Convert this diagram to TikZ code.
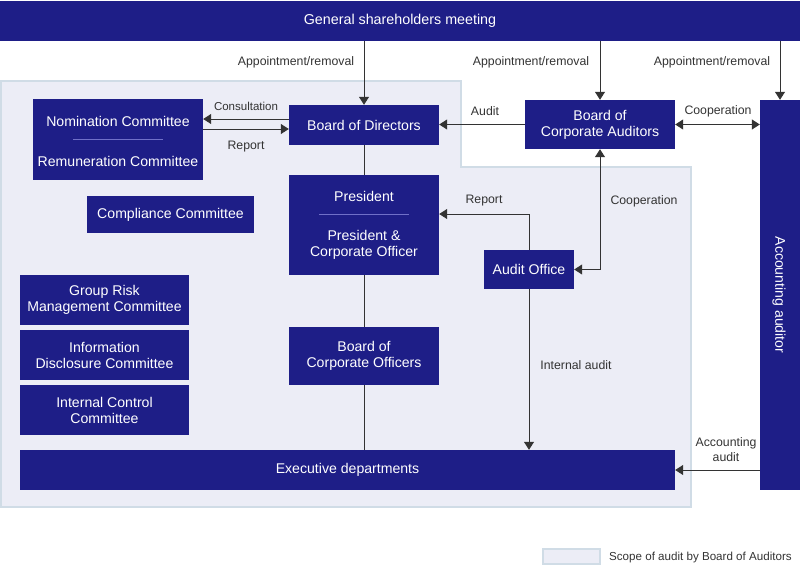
\documentclass[tikz,border=0pt]{standalone}
\usepackage{fontspec}
\setmainfont{Liberation Sans}
\usetikzlibrary{arrows.meta}
\definecolor{navy}{RGB}{30,30,135}
\definecolor{scopefill}{RGB}{236,237,246}
\definecolor{scopeborder}{RGB}{208,220,230}
\definecolor{linec}{RGB}{51,51,51}
\definecolor{sepc}{RGB}{112,112,200}
\tikzset{
  bx/.style={fill=navy, text=white, inner sep=0pt, align=center, font=\fontsize{14.1}{16}\selectfont},
  lbl/.style={text=linec, inner sep=0pt, align=center, font=\fontsize{12.3}{15}\selectfont},
  arr/.style={draw=linec, line width=1pt, -{Triangle[width=10pt,length=8pt]}},
  darr/.style={draw=linec, line width=1pt, {Triangle[width=10pt,length=8pt]}-{Triangle[width=10pt,length=8pt]}},
  ln/.style={draw=linec, line width=1pt},
  sep/.style={draw=sepc, line width=0.8pt},
  scope/.style={fill=scopefill, draw=scopeborder, line width=2pt}
}
\begin{document}
\begin{tikzpicture}[x=1pt,y=-1pt]
\useasboundingbox (0,0) rectangle (800,565);
% scope region
\path[scope] (1,81) -- (461,81) -- (461,167) -- (691,167) -- (691,507) -- (1,507) -- cycle;
% top bar
\node[bx, minimum width=800pt, minimum height=40pt, font=\fontsize{14.3}{16}\selectfont] (top) at (400,21) {General shareholders meeting};
% boxes
\node[bx, minimum width=170pt, minimum height=81pt] (nom) at (118,139.5) {};
\node[bx, fill=none] (nomA) at (118,121) {Nomination Committee};
\node[bx, fill=none] (nomB) at (118,161) {Remuneration Committee};
\draw[sep] (73,139.5) -- (163,139.5);
\node[bx, minimum width=150pt, minimum height=40pt] (bod) at (364,125) {Board of Directors};
\node[bx, minimum width=150pt, minimum height=49pt] (bca) at (600,124.5) {Board of\\Corporate Auditors};
\node[bx, minimum width=40pt, minimum height=390pt] (acc) at (780,295) {};
\node[bx, fill=none, rotate=-90] (accT) at (779,295) {Accounting auditor};
\node[bx, minimum width=150pt, minimum height=100pt] (pres) at (364,225) {};
\node[bx, fill=none] (presA) at (364,196) {President};
\node[bx, fill=none] (presB) at (364,245) {President \&\\Corporate Officer};
\draw[sep] (319,214.5) -- (409,214.5);
\node[bx, minimum width=90pt, minimum height=39pt] (ao) at (529,269.5) {Audit Office};
\node[bx, minimum width=167pt, minimum height=37pt] (comp) at (170.5,214.5) {Compliance Committee};
\node[bx, minimum width=169pt, minimum height=50pt] (grm) at (104.5,300) {Group Risk\\Management Committee};
\node[bx, minimum width=169pt, minimum height=50pt] (idc) at (104.5,355) {Information\\Disclosure Committee};
\node[bx, minimum width=169pt, minimum height=50pt] (icc) at (104.5,410) {Internal Control\\Committee};
\node[bx, minimum width=150pt, minimum height=58pt] (bco) at (364,356) {Board of\\Corporate Officers};
\node[bx, minimum width=655pt, minimum height=40pt] (exec) at (347.5,470) {Executive departments};
% connectors
\draw[arr] (top.south -| bod.north) -- (bod.north);
\draw[arr] (top.south -| bca.north) -- (bca.north);
\draw[arr] (top.south -| acc.north) -- (acc.north);
\draw[arr] ([yshift=6pt]bod.west) -- ([yshift=6pt]bod.west -| nom.east);
\draw[arr] ([yshift=-4pt]bod.west -| nom.east) -- ([yshift=-4pt]bod.west);
\draw[arr] (bca.west) -- (bca.west -| bod.east);
\draw[darr] (bca.east) -- (bca.east -| acc.west);
\draw[ln] (bod.south) -- (pres.north);
\draw[arr] (ao.north) |- ([yshift=11pt]pres.east);
\draw[darr] (bca.south) |- (ao.east);
\draw[ln] (pres.south) -- (bco.north);
\draw[ln] (bco.south) -- (exec.north -| bco.south);
\draw[arr] (ao.south) -- (exec.north -| ao.south);
\draw[arr] (exec.east -| acc.west) -- (exec.east);
% labels
\node[lbl] (l1) at (296,62) {Appointment/removal};
\node[lbl] (l2) at (531,62) {Appointment/removal};
\node[lbl] (l3) at (712,62) {Appointment/removal};
\node[lbl, font=\fontsize{11.5}{14}\selectfont] (l4) at (246,106) {Consultation};
\node[lbl] (l5) at (246,147) {Report};
\node[lbl] (l6) at (485,111) {Audit};
\node[lbl] (l7) at (718,111) {Cooperation};
\node[lbl] (l8) at (484,201) {Report};
\node[lbl] (l9) at (644,201) {Cooperation};
\node[lbl] (l10) at (576,365) {Internal audit};
\node[lbl] (l11) at (726,450) {Accounting\\audit};
% legend
\path[scope] (543,549) rectangle (600,564);
\node[lbl, anchor=west, font=\fontsize{11.6}{14}\selectfont] (leg) at (609,557) {Scope of audit by Board of Auditors};
\end{tikzpicture}
\end{document}
